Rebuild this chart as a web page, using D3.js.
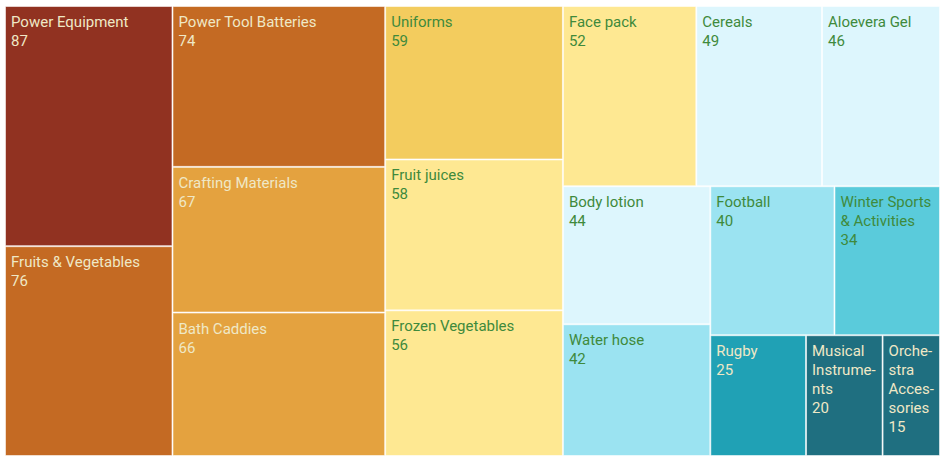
<!DOCTYPE html>
<html>
<head>
<meta charset="utf-8">
<script src="https://cdn.jsdelivr.net/npm/d3@7"></script>
<style>
  html, body { margin: 0; padding: 0; background: #fff; }
  svg { display: block; font-family: Roboto, "Open Sans", sans-serif; }
</style>
</head>
<body>
<svg id="chart" width="945" height="464"></svg>
<script>
// data
const categories = [
  "Power Equipment", "Fruits & Vegetables", "Power Tool Batteries", "Crafting Materials",
  "Bath Caddies", "Uniforms", "Fruit juices", "Frozen Vegetables", "Face pack", "Cereals",
  "Aloevera Gel", "Body lotion", "Water hose", "Football", "Winter Sports & Activities",
  "Rugby", "Musical Instruments", "Orchestra Accessories"
];
const values = [87, 76, 74, 67, 66, 59, 58, 56, 52, 49, 46, 44, 42, 40, 34, 25, 20, 15];

// stepped colour classes, low -> high
const colorClasses = [
  "#1f6f80", "#20a1b5", "#5acbdb", "#9be3f1", "#ddf6fd",
  "#fee892", "#f3cc5e", "#e4a23f", "#c46a23", "#913221"
];

const W = 945, H = 464;
const margin = { top: 6, right: 5, bottom: 8, left: 5 };
const LIGHT_TEXT = "#efe8c6", DARK_TEXT = "#3f8a3c";
const FONT_SIZE = 15, LINE_H = 19, PAD_X = 6;

const svg = d3.select("#chart");

const color = d3.scaleQuantize()
  .domain(d3.extent(values))
  .range(colorClasses);

const root = d3.hierarchy({
  children: categories.map((name, i) => ({ name, value: values[i] }))
}).sum(d => d.value || 0)
  .sort((a, b) => b.value - a.value);

d3.treemap()
  .tile(d3.treemapSquarify.ratio(1))
  .size([W - margin.left - margin.right, H - margin.top - margin.bottom])
  .round(false)(root);

// relative luminance to pick a label colour
function luminance(c) {
  const rgb = d3.rgb(c);
  const f = v => { v /= 255; return v <= 0.03928 ? v / 12.92 : Math.pow((v + 0.055) / 1.055, 2.4); };
  return 0.2126 * f(rgb.r) + 0.7152 * f(rgb.g) + 0.0722 * f(rgb.b);
}

const g = svg.append("g").attr("transform", `translate(${margin.left},${margin.top})`);

// measuring helper
const measurer = svg.append("text").attr("font-size", FONT_SIZE).attr("visibility", "hidden");
function textWidth(s) {
  measurer.text(s);
  return measurer.node().getComputedTextLength();
}

// wrap words, hyphenating a word that cannot fit on its own line
function wrapLabel(label, maxW) {
  const words = label.split(/\s+/);
  const lines = [];
  let cur = "";
  words.forEach(word => {
    const tryLine = cur ? cur + " " + word : word;
    if (textWidth(tryLine) <= maxW) { cur = tryLine; return; }
    if (cur) { lines.push(cur); cur = ""; }
    let rest = word;
    while (textWidth(rest) > maxW && rest.length > 1) {
      let k = rest.length - 1;
      while (k > 1 && textWidth(rest.slice(0, k) + "-") > maxW) k--;
      lines.push(rest.slice(0, k) + "-");
      rest = rest.slice(k);
    }
    cur = rest;
  });
  if (cur) lines.push(cur);
  return lines;
}

const leaf = g.selectAll("g.leaf")
  .data(root.leaves())
  .join("g")
  .attr("class", "leaf")
  .attr("transform", d => `translate(${d.x0},${d.y0})`);

leaf.append("rect")
  .attr("x", 0.5)
  .attr("y", 0.5)
  .attr("width", d => Math.max(0, d.x1 - d.x0 - 1))
  .attr("height", d => Math.max(0, d.y1 - d.y0 - 1))
  .attr("fill", d => color(d.data.value))
  .attr("stroke", "rgba(255,255,255,0.55)")
  .attr("stroke-width", 1);

leaf.each(function (d) {
  const fill = color(d.data.value);
  const txtColor = luminance(fill) > 0.5 ? DARK_TEXT : LIGHT_TEXT;
  const lines = wrapLabel(d.data.name, d.x1 - d.x0 - PAD_X * 2);
  lines.push(String(d.data.value));
  const t = d3.select(this).append("text")
    .attr("font-size", FONT_SIZE)
    .attr("fill", txtColor);
  lines.forEach((ln, i) => {
    t.append("tspan")
      .attr("x", PAD_X)
      .attr("y", 21 + i * LINE_H)
      .text(ln);
  });
});

measurer.remove();
</script>
</body>
</html>
